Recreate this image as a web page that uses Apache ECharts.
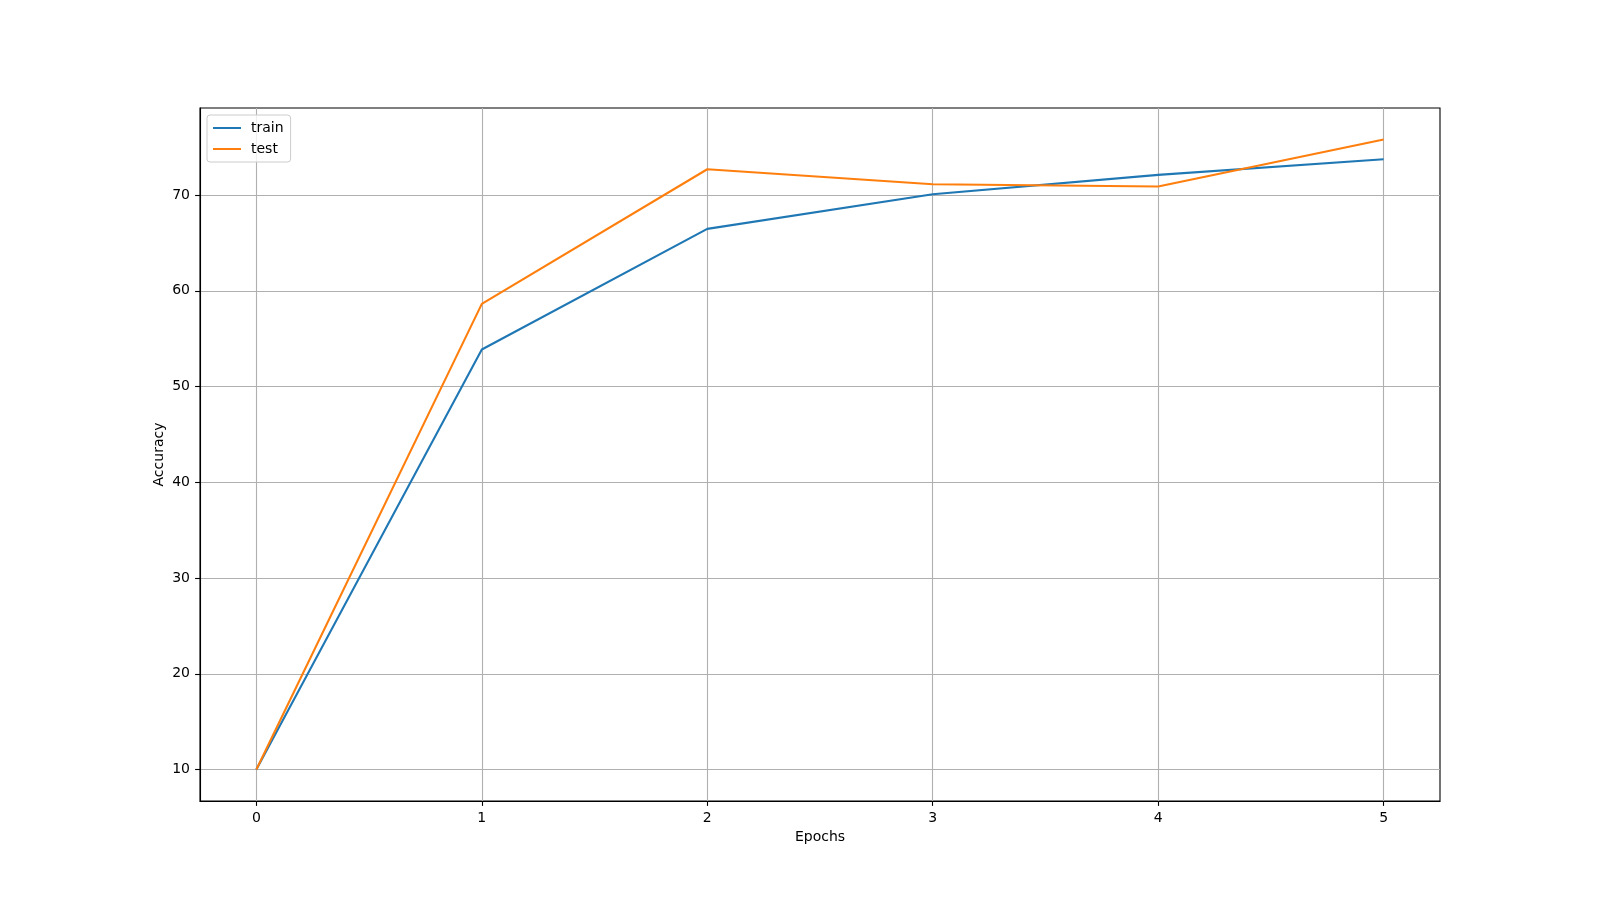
<!DOCTYPE html>
<html>
<head>
<meta charset="utf-8">
<script src="https://cdn.jsdelivr.net/npm/echarts@6/dist/echarts.min.js"></script>
<style>html,body{margin:0;padding:0;background:#fff}#c{width:1600px;height:900px}</style>
</head>
<body>
<div id="c"></div>
<script>
const epochs = [0, 1, 2, 3, 4, 5];
const trainAcc = [10, 53.87, 66.47, 70.09, 72.11, 73.75];
const testAcc = [10, 58.64, 72.7, 71.14, 70.9, 75.81];
const xTicks = [0, 1, 2, 3, 4, 5];
const yTicks = [10, 20, 30, 40, 50, 60, 70];

const FONT = 'DejaVu Sans';
function pad(arrs) {
  const all = [].concat(...arrs);
  const mn = Math.min(...all), mx = Math.max(...all);
  const m = (mx - mn) * 0.05;
  return [mn - m, mx + m];
}
const [xMin, xMax] = pad([epochs]);
const [yMin, yMax] = pad([trainAcc, testAcc]);

const chart = echarts.init(document.getElementById('c'), null, {renderer: 'canvas'});
chart.setOption({
  animation: false,
  backgroundColor: '#fff',
  textStyle: {fontFamily: FONT},
  grid: {left: 200, right: 160, top: 108, bottom: 99, show: true, borderColor: '#000', borderWidth: 1.1, backgroundColor: 'transparent'},
  legend: {
    left: 207, top: 115, orient: 'vertical',
    backgroundColor: 'rgba(255,255,255,0.8)',
    borderColor: '#cccccc', borderWidth: 1, borderRadius: 3,
    padding: [6, 7, 6, 6],
    icon: 'rect',
    itemWidth: 28, itemHeight: 2, itemGap: 7,
    textStyle: {fontFamily: FONT, fontSize: 14, color: '#000', padding: [0, 0, 0, 5]},
    data: ['train', 'test']
  },
  xAxis: {
    type: 'value', min: xMin, max: xMax,
    name: 'Epochs', nameLocation: 'middle', nameGap: 29, nameMoveOverlap: false,
    nameTextStyle: {fontFamily: FONT, fontSize: 14, color: '#000'},
    axisLine: {show: true, onZero: false, lineStyle: {color: '#000', width: 1.1}},
    axisTick: {show: true, inside: false, length: 4.9, lineStyle: {color: '#000', width: 1.1}, customValues: xTicks},
    axisLabel: {fontFamily: FONT, fontSize: 14, color: '#000', margin: 10, customValues: xTicks, formatter: v => String(v)},
    splitLine: {show: true, lineStyle: {color: '#b0b0b0', width: 1.1}}
  },
  yAxis: {
    type: 'value', min: yMin, max: yMax,
    name: 'Accuracy', nameLocation: 'middle', nameGap: 34, nameRotate: 90, nameMoveOverlap: false,
    nameTextStyle: {fontFamily: FONT, fontSize: 14, color: '#000'},
    axisLine: {show: true, onZero: false, lineStyle: {color: '#000', width: 1.1}},
    axisTick: {show: true, inside: false, length: 4.9, lineStyle: {color: '#000', width: 1.1}, customValues: yTicks},
    axisLabel: {fontFamily: FONT, fontSize: 14, color: '#000', margin: 10, customValues: yTicks, formatter: v => String(v)},
    splitLine: {show: true, lineStyle: {color: '#b0b0b0', width: 1.1}}
  },
  series: [
    {name: 'train', type: 'line', data: epochs.map((e, i) => [e, trainAcc[i]]), symbol: 'none', showSymbol: false,
     lineStyle: {color: '#1f77b4', width: 2.1}, itemStyle: {color: '#1f77b4'}},
    {name: 'test', type: 'line', data: epochs.map((e, i) => [e, testAcc[i]]), symbol: 'none', showSymbol: false,
     lineStyle: {color: '#ff7f0e', width: 2.1}, itemStyle: {color: '#ff7f0e'}}
  ]
});
</script>
</body>
</html>
